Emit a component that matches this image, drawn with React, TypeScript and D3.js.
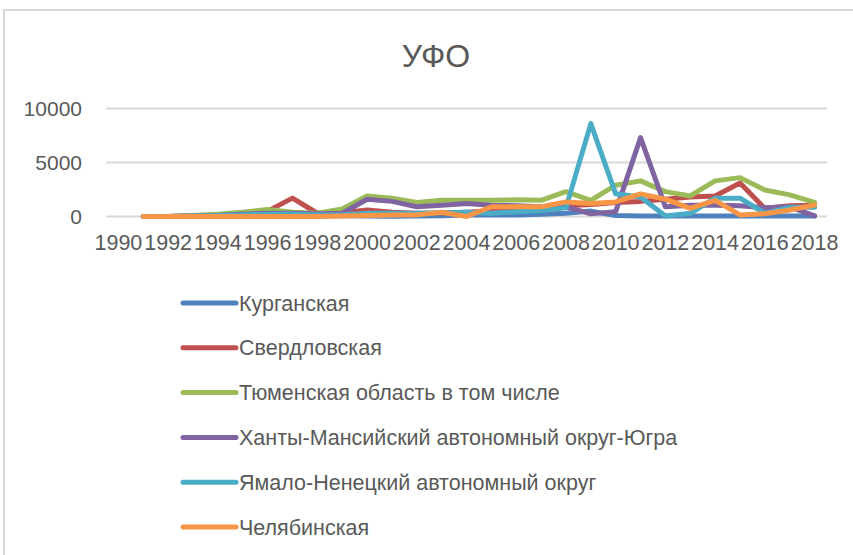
import React from "react";
import * as d3 from "d3";

const years: string[] = d3.range(1990, 2019).map(String);

const seriesNames: string[] = [
  "Курганская",
  "Свердловская",
  "Тюменская область в том числе",
  "Ханты-Мансийский автономный округ-Югра",
  "Ямало-Ненецкий автономный округ",
  "Челябинская",
];

const kurgan: (number | null)[] = [null, 0, 0, 20, 50, 80, 100, 100, 80, 80, 50, 30, 50, 80, 150, 150, 150, 200, 300, 500, 100, 50, 50, 50, 50, 50, 50, 50, 50];
const sverdl: (number | null)[] = [null, 0, 0, 50, 100, 200, 500, 1700, 300, 350, 600, 400, 300, 300, 400, 500, 600, 700, 1000, 1100, 1300, 1400, 1600, 1800, 1900, 3100, 750, 1000, 1050];
const tyumen: (number | null)[] = [null, 0, 0, 100, 200, 400, 650, 400, 300, 700, 1900, 1700, 1300, 1500, 1500, 1500, 1550, 1500, 2300, 1500, 2900, 3300, 2300, 1900, 3300, 3600, 2450, 2000, 1300];
const khanty: (number | null)[] = [null, 0, 0, 50, 100, 200, 300, 300, 250, 300, 1600, 1400, 900, 1050, 1200, 1050, 1000, 900, 900, 250, 450, 7300, 900, 1050, 1050, 1000, 800, 900, 50];
const yamal: (number | null)[] = [null, 0, 0, 50, 100, 150, 200, 200, 150, 150, 300, 300, 300, 350, 400, 300, 450, 550, 800, 8600, 2100, 1800, 50, 300, 1700, 1700, 300, 850, 850];
const chelyab: (number | null)[] = [null, 0, 0, 0, 0, 0, 0, 0, 0, 50, 100, 150, 150, 400, 0, 900, 900, 900, 1350, 1200, 1350, 2100, 1600, 750, 1500, 150, 250, 600, 1050];

const seriesValues = [kurgan, sverdl, tyumen, khanty, yamal, chelyab];
const colors: string[] = ["#4F81BD", "#C0504D", "#9BBB59", "#8064A2", "#4BACC6", "#F79646"];
const yTicks: number[] = [0, 5000, 10000];
const xLabelYears: string[] = years.filter((_, i) => i % 2 === 0);

const FONT = "'Liberation Sans', Arial, sans-serif";

export default function App() {
  const x = d3.scalePoint<string>().domain(years).range([106, 827]).padding(0.5);
  const y = d3.scaleLinear().domain([0, 10000]).range([216.5, 108.5]);
  const line = d3
    .line<number | null>()
    .defined((d) => d != null)
    .x((_, i) => x(years[i]) as number)
    .y((d) => y(d as number));

  return (
    <div style={{ position: "fixed", left: 0, top: 0 }}>
      <svg width={853} height={555} style={{ display: "block", background: "#fff" }}>
        <rect x={4} y={10} width={860} height={560} fill="#fff" stroke="#d9d9d9" strokeWidth={2} />
        <text x={436} y={67} textAnchor="middle" fontFamily={FONT} fontSize={32} fill="#595959">
          УФО
        </text>
        {yTicks.map((t) => (
          <g key={t}>
            <line x1={106} x2={827} y1={y(t)} y2={y(t)} stroke="#d9d9d9" strokeWidth={2} />
            <text x={82} y={y(t) + 7.5} textAnchor="end" fontFamily={FONT} fontSize={21} fill="#595959">
              {t}
            </text>
          </g>
        ))}
        {xLabelYears.map((yr) => (
          <text key={yr} x={x(yr)} y={250} textAnchor="middle" fontFamily={FONT} fontSize={21.5} fill="#595959">
            {yr}
          </text>
        ))}
        {seriesValues.map((vals, si) => (
          <path
            key={si}
            d={line(vals) || ""}
            fill="none"
            stroke={colors[si]}
            strokeWidth={5}
            strokeLinejoin="round"
            strokeLinecap="round"
          />
        ))}
        {seriesNames.map((name, i) => {
          const cy = 303 + i * 44.8;
          return (
            <g key={name}>
              <line x1={183} x2={236} y1={cy} y2={cy} stroke={colors[i]} strokeWidth={5} strokeLinecap="round" />
              <text x={239} y={cy + 7.5} fontFamily={FONT} fontSize={21.5} fill="#595959">
                {name}
              </text>
            </g>
          );
        })}
      </svg>
    </div>
  );
}
